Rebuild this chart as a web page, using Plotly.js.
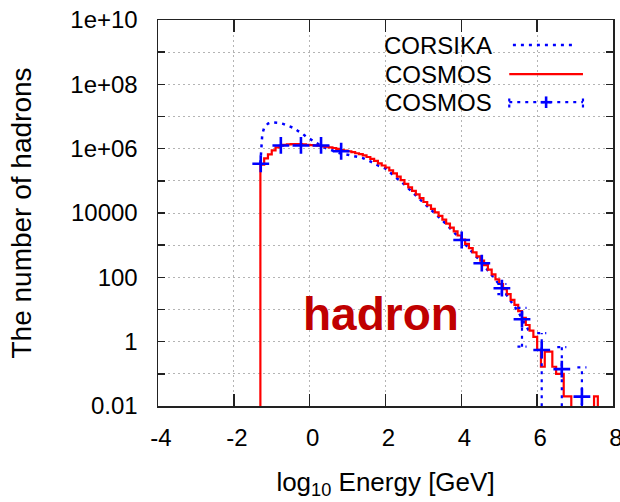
<!DOCTYPE html>
<html>
<head>
<meta charset="utf-8">
<script src="https://cdn.plot.ly/plotly-3.0.1.min.js"></script>
<style>
  html, body { margin: 0; padding: 0; background: #fff; }
  #chart { width: 620px; height: 502px; }
</style>
</head>
<body>
<div id="chart"></div>
<script>
// ---- Data -------------------------------------------------------------
// COSMOS histogram: counts per log10(E) bin, bins of width 0.1 starting at -1.3
const cosmosBinStart = -1.3;
const cosmosBinWidth = 0.1;
const cosmosCounts = [
  3.2e5, 5.0e5, 6.6e5, 8.9e5, 1.10e6, 1.23e6, 1.32e6, 1.35e6, 1.38e6, 1.38e6,
  1.38e6, 1.35e6, 1.32e6, 1.29e6, 1.26e6, 1.23e6, 1.17e6, 1.15e6, 1.10e6, 1.05e6,
  9.8e5, 9.1e5, 8.7e5, 8.3e5, 7.8e5, 7.2e5, 6.8e5, 6.2e5, 5.5e5, 4.8e5,
  4.2e5, 3.5e5, 3.0e5, 2.6e5, 2.1e5, 1.7e5, 1.35e5, 1.05e5, 8.1e4, 6.3e4,
  4.9e4, 3.8e4, 2.9e4, 2.2e4, 1.74e4, 1.35e4, 1.05e4, 8.1e3, 6.2e3, 4.7e3,
  3.5e3, 2.7e3, 2.0e3, 1.48e3, 1.10e3, 810, 600, 450, 330, 240,
  174, 123, 87, 62, 43, 30, 20, 14, 8.9, 5.5,
  3.3, 2.2, 1.4, 0.56, 0.166, 0.49, 0.49, 0.166, 0.10, 0.10,
  0.020, 0.020, 0, 0, 0, 0, 0, 0, 0.020
];

// CORSIKA spectrum
const corsikaLogE = [
  -1.3, -1.25, -1.2, -1.1, -1.0, -0.9, -0.8, -0.7, -0.6, -0.5,
  -0.4, -0.3, -0.2, -0.1, 0.0, 0.1, 0.2, 0.3, 0.4, 0.6,
  0.8, 1.0, 1.2, 1.4, 1.6, 1.8, 2.0, 2.5, 3.0, 3.5,
  4.0, 4.5, 5.0, 5.5, 5.8
];
const corsikaCounts = [
  3.5e5, 2.8e6, 4.5e6, 6.0e6, 6.6e6, 6.6e6, 6.3e6, 5.9e6, 5.4e6, 4.9e6,
  4.3e6, 3.5e6, 3.0e6, 2.4e6, 2.0e6, 1.66e6, 1.41e6, 1.23e6, 1.07e6, 8.7e5,
  7.2e5, 6.5e5, 5.9e5, 5.1e5, 4.0e5, 3.0e5, 2.4e5, 7.6e4, 2.1e4, 5.9e3,
  1.45e3, 320, 60, 8.5, 2.0
];

// COSMOS points with error bars
const pointLogE   = [-1.29, -0.76, -0.23, 0.30, 0.83, 4.01, 4.54, 5.07, 5.60, 6.12, 6.65, 7.18];
const pointCounts = [3.4e5, 1.26e6, 1.26e6, 1.26e6, 8.3e5, 1450, 275, 46, 5.0, 0.55, 0.14, 0.0195];
const pointErrUp  = [0, 0, 0, 0, 0, 0, 0, 16, 6.2, 1.3, 0.54, 0.14];
const pointErrDn  = [0, 0, 0, 0, 0, 0, 0, 16, 4.3, 0.55, 0.14, 0.0195];

// Axis ticks
const xTickVals = [-4, -2, 0, 2, 4, 6, 8];
const xTickText = ['-4', '-2', '0', '2', '4', '6', '8'];
const yTickVals = [1e-2, 1, 1e2, 1e4, 1e6, 1e8, 1e10];
const yTickText = ['0.01', '1', '100', '10000', '1e+06', '1e+08', '1e+10'];
const yMinorVals = [1e-1, 1e1, 1e3, 1e5, 1e7, 1e9];

const seriesNames = ['CORSIKA', 'COSMOS', 'COSMOS'];

// ---- Styling ------------------------------------------------------------
const BLUE = '#0000ff';
const RED = '#ff0000';
const FONT = 'Liberation Sans, Arial, Helvetica, sans-serif';
const DOTS = '3px,5px';
const EMPTY = 1e-4;           // empty bins are drawn below the visible range

// Histogram outline: vertical edges between bins, horizontal tops
const histX = [cosmosBinStart];
const histY = [EMPTY];
cosmosCounts.forEach((c, i) => {
  histX.push(cosmosBinStart + i * cosmosBinWidth);
  histY.push(c > 0 ? c : EMPTY);
});
histX.push(cosmosBinStart + cosmosCounts.length * cosmosBinWidth);
histY.push(EMPTY);

// Dotted error bars with caps
const capHalf = 0.12;
const errX = [], errY = [];
pointLogE.forEach((x, i) => {
  const v = pointCounts[i];
  const up = pointErrUp[i], dn = pointErrDn[i];
  if (!(up > 0 || dn > 0)) return;
  const hi = v + up;
  const lo = v - dn;
  const loDrawn = lo > 0 ? lo : EMPTY;
  errX.push(x, x, null); errY.push(loDrawn, hi, null);
  errX.push(x - capHalf, x + capHalf, null); errY.push(hi, hi, null);
  if (lo > 0 && dn > 0) {
    errX.push(x - capHalf, x + capHalf, null); errY.push(lo, lo, null);
  }
});

const traces = [
  {
    x: corsikaLogE, y: corsikaCounts, name: seriesNames[0],
    type: 'scatter', mode: 'lines',
    line: { color: BLUE, width: 2.5, dash: DOTS },
    hoverinfo: 'skip'
  },
  {
    x: histX, y: histY, name: seriesNames[1],
    type: 'scatter', mode: 'lines',
    line: { color: RED, width: 2.2, shape: 'hv' },
    hoverinfo: 'skip'
  },
  {
    x: errX, y: errY, name: seriesNames[2] + ' errors',
    type: 'scatter', mode: 'lines', connectgaps: false,
    line: { color: BLUE, width: 2.2, dash: DOTS },
    hoverinfo: 'skip'
  },
  {
    x: pointLogE, y: pointCounts, name: seriesNames[2],
    type: 'scatter', mode: 'markers',
    marker: { symbol: 'cross-thin', size: 12, color: BLUE, line: { color: BLUE, width: 2.6 } }
  }
];

// Key drawn inside the frame: label on the left, line sample on the right
const keyTextX = 0.738;
const keyRows = [0.935, 0.860, 0.787];
const keyX0 = 0.772, keyX1 = 0.934, keyMid = (keyX0 + keyX1) / 2;
const annotations = seriesNames.map((n, i) => ({
  xref: 'paper', yref: 'paper', x: keyTextX, y: keyRows[i],
  xanchor: 'right', yanchor: 'middle', showarrow: false, text: n,
  font: { family: FONT, size: 24, color: '#000' }
}));
annotations.push({
  xref: 'paper', yref: 'paper', x: 0.49, y: 0.238,
  xanchor: 'center', yanchor: 'middle', showarrow: false, text: '<b>hadron</b>',
  font: { family: FONT, size: 46, color: '#c00000' }
});

const capH = 0.014, plusW = 0.012, plusH = 0.015;
const shapes = [
  { type: 'line', xref: 'paper', yref: 'paper', x0: keyX0 + 0.008, x1: keyX1 - 0.02, y0: keyRows[0], y1: keyRows[0],
    line: { color: BLUE, width: 2.5, dash: DOTS } },
  { type: 'line', xref: 'paper', yref: 'paper', x0: keyX0, x1: keyX1, y0: keyRows[1], y1: keyRows[1],
    line: { color: RED, width: 2.2 } },
  { type: 'line', xref: 'paper', yref: 'paper', x0: keyX0, x1: keyX1, y0: keyRows[2], y1: keyRows[2],
    line: { color: BLUE, width: 2.2, dash: DOTS } },
  { type: 'line', xref: 'paper', yref: 'paper', x0: keyX0, x1: keyX0, y0: keyRows[2] - capH, y1: keyRows[2] + capH,
    line: { color: BLUE, width: 2.2, dash: '3px,3px' } },
  { type: 'line', xref: 'paper', yref: 'paper', x0: keyX1, x1: keyX1, y0: keyRows[2] - capH, y1: keyRows[2] + capH,
    line: { color: BLUE, width: 2.2, dash: '3px,3px' } },
  { type: 'line', xref: 'paper', yref: 'paper', x0: keyMid - plusW, x1: keyMid + plusW, y0: keyRows[2], y1: keyRows[2],
    line: { color: BLUE, width: 2.6 } },
  { type: 'line', xref: 'paper', yref: 'paper', x0: keyMid, x1: keyMid, y0: keyRows[2] - plusH, y1: keyRows[2] + plusH,
    line: { color: BLUE, width: 2.6 } }
];

const GRID = '#b4b4b4';
const axisCommon = {
  showline: true, linecolor: '#222', linewidth: 1.5, mirror: 'ticks',
  ticks: 'inside', tickcolor: '#222', tickwidth: 1.5,
  showgrid: true, gridcolor: GRID, gridwidth: 1, griddash: '2px,3px',
  zeroline: false, tickmode: 'array', ticklabeloverflow: 'allow',
  tickfont: { family: FONT, size: 24, color: '#000' }
};

const layout = {
  width: 620, height: 502,
  margin: { l: 158, r: 7, t: 20, b: 96, pad: 0 },
  paper_bgcolor: '#fff', plot_bgcolor: '#fff',
  showlegend: false,
  font: { family: FONT, color: '#000' },
  xaxis: Object.assign({}, axisCommon, {
    range: [-4, 8], tickvals: xTickVals, ticktext: xTickText, ticklen: 12,
    ticklabelstandoff: 10, ticklabelshift: 3,
    title: { text: 'log<sub>10</sub> Energy [GeV]', font: { family: FONT, size: 26 }, standoff: 22 }
  }),
  yaxis: Object.assign({}, axisCommon, {
    type: 'log', range: [-2, 10], tickvals: yTickVals, ticktext: yTickText, ticklen: 7,
    ticklabelstandoff: 14,
    minor: {
      tickmode: 'array', tickvals: yMinorVals, ticks: 'inside', ticklen: 7,
      tickcolor: '#222', tickwidth: 1.5,
      showgrid: true, gridcolor: GRID, gridwidth: 1, griddash: '2px,3px'
    },
    title: { text: 'The number of hadrons', font: { family: FONT, size: 28 }, standoff: 30 }
  }),
  annotations: annotations,
  shapes: shapes
};

Plotly.newPlot('chart', traces, layout, { staticPlot: true, displayModeBar: false });
</script>
</body>
</html>
